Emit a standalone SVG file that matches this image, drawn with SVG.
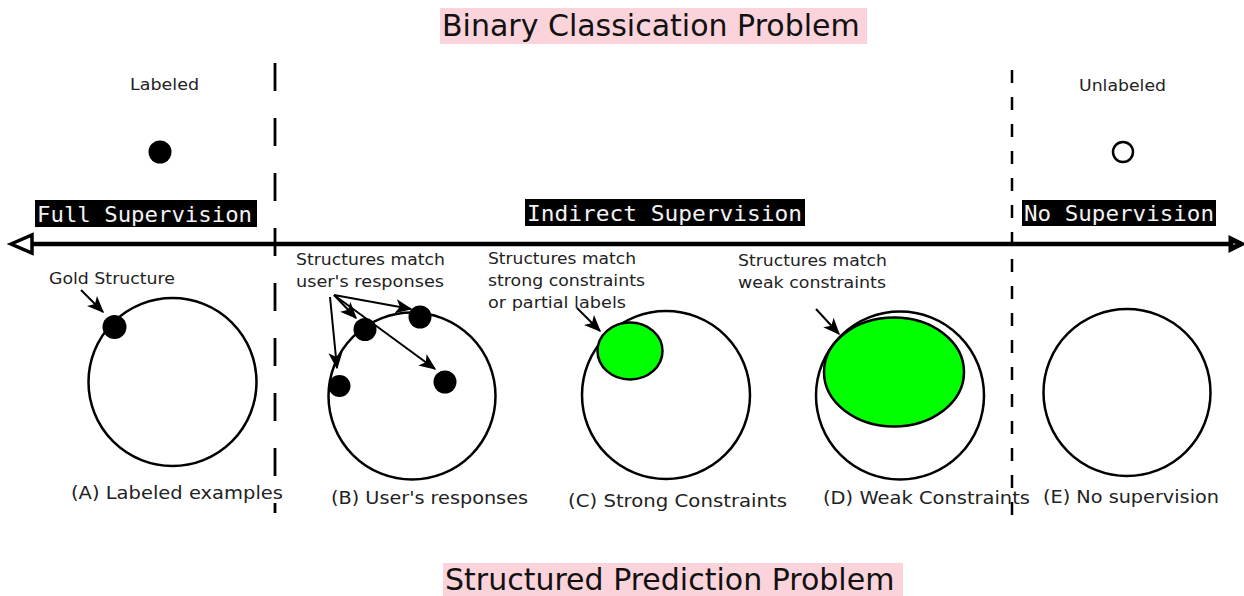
<svg xmlns="http://www.w3.org/2000/svg" width="1244" height="596" viewBox="0 0 1244 596">
<style>
  .title { font-family: "DejaVu Sans", "Liberation Sans", sans-serif; font-size: 30px; fill: #111; }
  .small { font-family: "DejaVu Sans", "Liberation Sans", sans-serif; font-size: 16.5px; fill: #222; }
  .cap { font-family: "DejaVu Sans", "Liberation Sans", sans-serif; font-size: 18px; fill: #222; }
  .mono { font-family: "DejaVu Sans Mono", "Liberation Mono", monospace; font-size: 22px; fill: #f2f2f2; }
  .ring { fill: none; stroke: #000; stroke-width: 2.5; }
  .green { fill: #00ff00; stroke: #000; stroke-width: 2.5; }
  .dot { fill: #000; }
  .ptr { fill: none; stroke: #000; stroke-width: 2; marker-end: url(#arr); }
  .box { fill: #000; }
</style>
<defs>
  <marker id="arr" viewBox="0 0 12 10" refX="11" refY="5" markerWidth="8.5" markerHeight="7.5" orient="auto" markerUnits="strokeWidth">
    <path d="M0,0 L12,5 L0,10 L3,5 z" fill="#000"/>
  </marker>
</defs>
<rect width="1244" height="596" fill="#fff"/>

<g id="title-top">
  <rect x="440" y="8" width="427" height="36" fill="#fbd3db"/>
  <text class="title" x="442" y="36">Binary Classication Problem</text>
</g>
<g id="title-bottom">
  <rect x="443" y="563" width="460" height="33" fill="#fbd3db"/>
  <text class="title" x="445" y="590">Structured Prediction Problem</text>
</g>

<g id="separators">
  <line x1="275" y1="63" x2="275" y2="513" stroke="#000" stroke-width="2.8" stroke-dasharray="28 27"/>
  <line x1="1012" y1="70" x2="1012" y2="518" stroke="#000" stroke-width="2.5" stroke-dasharray="13 14"/>
</g>

<g id="axis">
  <line x1="30" y1="244" x2="1232" y2="244" stroke="#000" stroke-width="4.5"/>
  <polygon points="11,244 32,235 32,253" fill="#fff" stroke="#000" stroke-width="3.5" stroke-linejoin="miter"/>
  <polygon points="1241,244 1231,239 1231,249" fill="#fff" stroke="#000" stroke-width="5" stroke-linejoin="miter"/>
</g>

<g id="label-full">
  <rect class="box" x="35" y="200" width="222" height="27"/>
  <text class="mono" x="37" y="222" textLength="215" lengthAdjust="spacingAndGlyphs">Full Supervision</text>
</g>
<g id="label-indirect">
  <rect class="box" x="525" y="199" width="280" height="27"/>
  <text class="mono" x="527" y="221" textLength="275" lengthAdjust="spacingAndGlyphs">Indirect Supervision</text>
</g>
<g id="label-none">
  <rect class="box" x="1022" y="200" width="194" height="26"/>
  <text class="mono" x="1024" y="221" textLength="190" lengthAdjust="spacingAndGlyphs">No Supervision</text>
</g>

<g id="labeled">
  <text class="small" x="130" y="90" textLength="69" lengthAdjust="spacingAndGlyphs">Labeled</text>
  <circle class="dot" cx="160" cy="152" r="11.5"/>
</g>
<g id="unlabeled">
  <text class="small" x="1079" y="91" textLength="87" lengthAdjust="spacingAndGlyphs">Unlabeled</text>
  <circle cx="1123" cy="152" r="10" fill="#fff" stroke="#000" stroke-width="2.5"/>
</g>

<g id="node-a">
  <circle class="ring" cx="172.5" cy="382" r="84"/>
  <circle class="dot" cx="114.5" cy="327" r="12"/>
  <text class="small" x="49" y="284" textLength="126" lengthAdjust="spacingAndGlyphs">Gold Structure</text>
  <text class="cap" x="71" y="499" textLength="212" lengthAdjust="spacingAndGlyphs">(A) Labeled examples</text>
</g>

<g id="node-b">
  <circle class="ring" cx="412" cy="396" r="83.5"/>
  <circle class="dot" cx="420" cy="317" r="11.5"/>
  <circle class="dot" cx="365" cy="329.5" r="11.5"/>
  <circle class="dot" cx="339.5" cy="386" r="11"/>
  <circle class="dot" cx="445" cy="382" r="11.5"/>
  <text class="small" x="296" y="265" textLength="149" lengthAdjust="spacingAndGlyphs">Structures match</text>
  <text class="small" x="296" y="287" textLength="148" lengthAdjust="spacingAndGlyphs">user's responses</text>
  <text class="cap" x="331" y="504" textLength="197" lengthAdjust="spacingAndGlyphs">(B) User's responses</text>
</g>

<g id="node-c">
  <circle class="ring" cx="666" cy="395" r="84"/>
  <ellipse class="green" cx="630" cy="351" rx="32.5" ry="28.5"/>
  <text class="small" x="488" y="264" textLength="148" lengthAdjust="spacingAndGlyphs">Structures match</text>
  <text class="small" x="488" y="286" textLength="157" lengthAdjust="spacingAndGlyphs">strong constraints</text>
  <text class="small" x="488" y="308" textLength="138" lengthAdjust="spacingAndGlyphs">or partial labels</text>
  <text class="cap" x="568" y="507" textLength="219" lengthAdjust="spacingAndGlyphs">(C) Strong Constraints</text>
</g>

<g id="node-d">
  <circle class="ring" cx="900" cy="395.5" r="84"/>
  <ellipse class="green" cx="894" cy="372" rx="70" ry="54.5"/>
  <text class="small" x="738" y="266" textLength="149" lengthAdjust="spacingAndGlyphs">Structures match</text>
  <text class="small" x="738" y="288" textLength="148" lengthAdjust="spacingAndGlyphs">weak constraints</text>
  <text class="cap" x="823" y="504" textLength="207" lengthAdjust="spacingAndGlyphs">(D) Weak Constraints</text>
</g>

<g id="node-e">
  <circle class="ring" cx="1127" cy="392.5" r="83.5"/>
  <text class="cap" x="1043" y="503" textLength="176" lengthAdjust="spacingAndGlyphs">(E) No supervision</text>
</g>

<g id="connectors">
  <line class="ptr" x1="81" y1="290" x2="103" y2="312" stroke-width="2.5"/>
  <line class="ptr" x1="334" y1="295" x2="411" y2="309"/>
  <line class="ptr" x1="334" y1="295" x2="356" y2="318"/>
  <line class="ptr" x1="330" y1="297" x2="337" y2="368"/>
  <line class="ptr" x1="334" y1="295" x2="435" y2="369"/>
  <line class="ptr" x1="577" y1="308" x2="600" y2="331" stroke-width="2.5"/>
  <line class="ptr" x1="816" y1="309" x2="839" y2="334" stroke-width="2.5"/>
</g>
</svg>
